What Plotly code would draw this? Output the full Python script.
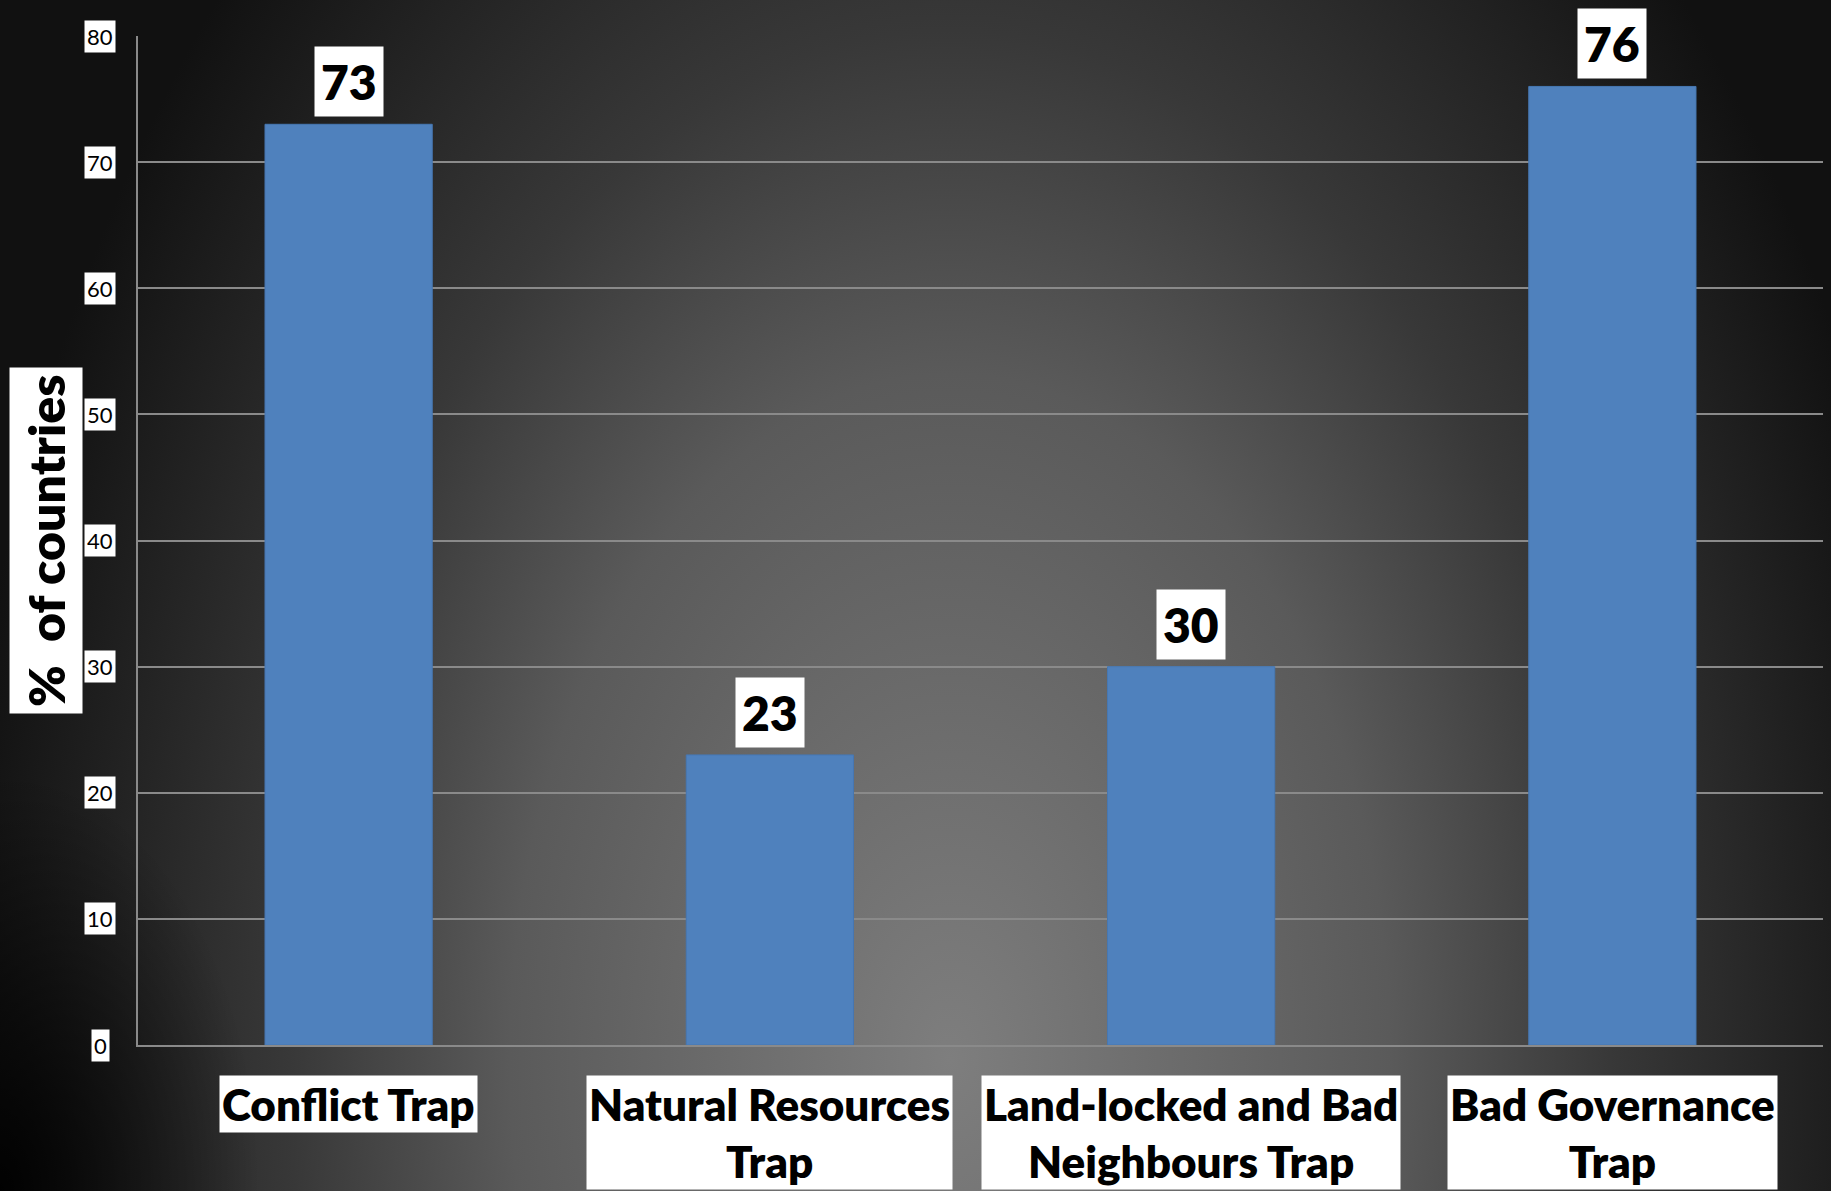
import base64
import plotly.graph_objects as go

# ---- data ----
categories = ["Conflict Trap", "Natural Resources Trap",
              "Land-locked and Bad Neighbours Trap", "Bad Governance Trap"]
category_labels = ["Conflict Trap", "Natural Resources<br>Trap",
                   "Land-locked and Bad<br>Neighbours Trap", "Bad Governance<br>Trap"]
values = [73, 23, 30, 76]
y_ticks = [0, 10, 20, 30, 40, 50, 60, 70, 80]
y_title = "%\u00a0 of countries"

W, H = 1831, 1191
ML, MR, MT, MB = 138, 8, 36, 146
PW, PH = W - ML - MR, H - MT - MB

FONT = "Lato, Carlito, Calibri, 'Open Sans', sans-serif"
BOLD = 800
BLUE = "#4f81bd"
GRID = "#8a8a8a"

# background radial gradient as an SVG image
svg = f'''<svg xmlns="http://www.w3.org/2000/svg" width="{W}" height="{H}" viewBox="0 0 {W} {H}" preserveAspectRatio="none">
<defs>
<radialGradient id="g" gradientUnits="userSpaceOnUse" cx="0" cy="0" r="1" gradientTransform="translate(950 1060) scale(1000 1560)">
<stop offset="0" stop-color="#7e7e7e"/>
<stop offset="0.44" stop-color="#5a5a5a"/>
<stop offset="0.66" stop-color="#383838"/>
<stop offset="0.85" stop-color="#222222"/>
<stop offset="1" stop-color="#111111"/>
</radialGradient>
<radialGradient id="v" gradientUnits="userSpaceOnUse" cx="0" cy="0" r="1" gradientTransform="translate(0 1191) scale(260 420)">
<stop offset="0" stop-color="#000000" stop-opacity="0.95"/>
<stop offset="1" stop-color="#000000" stop-opacity="0"/>
</radialGradient>
</defs>
<rect width="{W}" height="{H}" fill="url(#g)"/>
<rect width="{W}" height="{H}" fill="url(#v)"/>
</svg>'''
bg_uri = "data:image/svg+xml;base64," + base64.b64encode(svg.encode()).decode()

fig = go.Figure(go.Bar(
    x=categories, y=values,
    marker=dict(color=BLUE, line=dict(color="#4677b2", width=1)),
    hoverinfo="skip",
))

annotations = []
# value labels
for c, v in zip(categories, values):
    annotations.append(dict(
        x=c, y=v, xref="x", yref="y", text=str(v), showarrow=False,
        xanchor="center", yanchor="bottom", yshift=7,
        font=dict(family=FONT, size=48, color="black", weight=BOLD),
        bgcolor="white", borderpad=6,
    ))
# category labels
for c, lab in zip(categories, category_labels):
    annotations.append(dict(
        x=c, y=0, xref="x", yref="paper", text=lab, showarrow=False,
        xanchor="center", yanchor="top", yshift=-30, align="center",
        font=dict(family=FONT, size=44, color="black", weight=BOLD),
        bgcolor="white", borderpad=2,
    ))
# y tick labels
for t in y_ticks:
    annotations.append(dict(
        x=(100 - ML) / PW, y=t, xref="paper", yref="y", text=str(t), showarrow=False,
        xanchor="center", yanchor="middle",
        font=dict(family=FONT, size=22, color="black"),
        bgcolor="white", borderpad=2,
    ))
# y axis title
annotations.append(dict(
    x=(45.5 - ML) / PW, y=0.5, xref="paper", yref="paper", text=y_title,
    showarrow=False, textangle=-90, xanchor="center", yanchor="middle",
    font=dict(family=FONT, size=50, color="black", weight=BOLD),
    bgcolor="white", borderpad=6,
))

fig.update_layout(
    width=W, height=H,
    margin=dict(l=ML, r=MR, t=MT, b=MB, pad=0),
    paper_bgcolor="#333333",
    plot_bgcolor="rgba(0,0,0,0)",
    bargap=0.603,
    showlegend=False,
    annotations=annotations,
    images=[dict(
        source=bg_uri, xref="paper", yref="paper",
        x=-ML / PW, y=1 + MT / PH, sizex=W / PW, sizey=H / PH,
        xanchor="left", yanchor="top", sizing="stretch", layer="below",
    )],
    xaxis=dict(showticklabels=False, ticks="", showgrid=False,
               showline=True, linecolor=GRID, linewidth=2, zeroline=False),
    yaxis=dict(range=[0, 80], tickvals=y_ticks, showticklabels=False, ticks="",
               showgrid=True, gridcolor=GRID, gridwidth=2,
               showline=True, linecolor=GRID, linewidth=2, zeroline=False),
)

fig.write_html("out.html", config={"displayModeBar": False},
               post_script="document.body.style.margin='0';document.body.style.overflow='hidden';")
